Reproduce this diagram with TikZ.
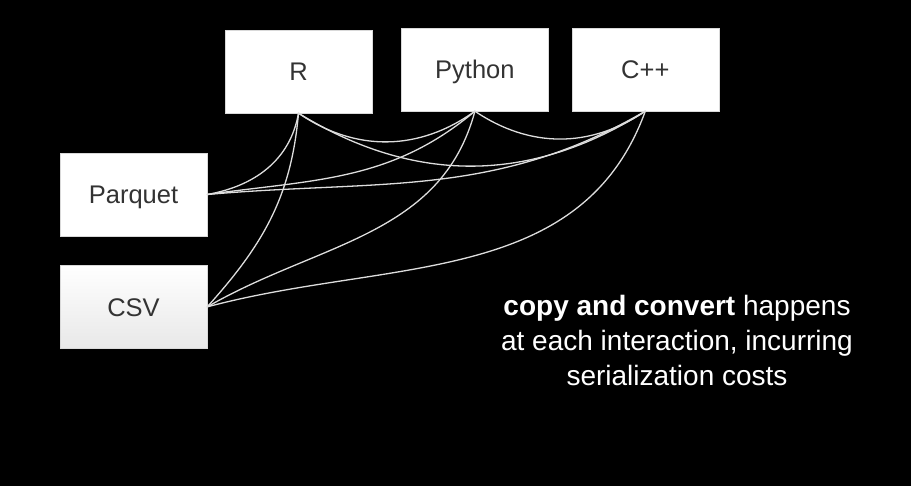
\documentclass[tikz,border=0pt]{standalone}
\usepackage{fontspec}
\setmainfont{Liberation Sans}
\usepackage{xcolor}
\usetikzlibrary{positioning}

\definecolor{boxtext}{HTML}{333333}
\definecolor{wirecol}{HTML}{DDDDDD}

\tikzset{
	lang/.style={draw=gray!30, fill=white, text=boxtext, minimum width=147pt, minimum height=83pt, inner sep=0pt, text height=18.5pt, text depth=0pt, font=\fontsize{25.5}{30}\selectfont},
	fmt/.style={lang},
	link/.style={draw=wirecol, line width=1.3pt, line cap=round},
}

\begin{document}
\begin{tikzpicture}[x=1pt, y=1pt, node distance=29pt]
	\fill[black] (0,0) rectangle (911,486);
	\useasboundingbox (0,0) rectangle (911,486);
	\node[lang] (r) at (298.5,414.5) {R};
	\node[lang, right=29pt of r, yshift=2pt] (py) {Python};
	\node[lang, right=23pt of py] (cpp) {C++};
	\node[fmt] (parquet) at (133.5,291.5) {Parquet};
	\node[fmt, below=of parquet, top color=white, bottom color=gray!18] (csv) {CSV};
	\node[text=white, align=center, font=\fontsize{28}{35}\selectfont] (note) at (677,146)
		{\textbf{copy and convert} happens\\at each interaction, incurring\\serialization costs};
	
	
	\draw (r.south) edge[link, bend right=35] (py.south) ;
	\draw (r.south) edge[link, bend right=32] (cpp.south) ;
	\draw (py.south) edge[link, bend right=34] (cpp.south) ;
	\draw (r.south) edge[link, out=-100, in=10] (parquet.east) ;
	\draw (r.south) edge[link, out=-95, in=48] (csv.east) ;
	\draw (py.south) edge[link, out=-140, in=8] (parquet.east) ;
	\draw (py.south) edge[link, out=-105, in=30] (csv.east) ;
	\draw (cpp.south) edge[link, out=-150, in=5] (parquet.east) ;
	\draw (cpp.south) edge[link, out=-110, in=15] (csv.east) ;
\end{tikzpicture}
\end{document}
